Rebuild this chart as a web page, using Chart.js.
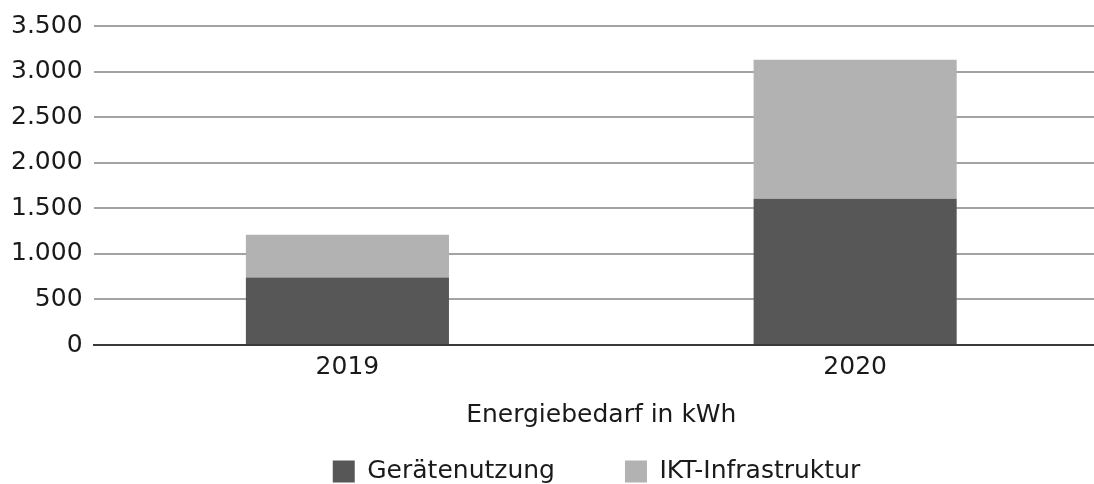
<!DOCTYPE html>
<html>
<head>
<meta charset="utf-8">
<script src="https://cdn.jsdelivr.net/npm/chart.js@4"></script>
<style>
  html, body { margin: 0; padding: 0; background: #fff; overflow: hidden; }
  #wrap { width: 1192px; height: 484px; }
</style>
</head>
<body>
<div id="wrap"><canvas id="myChart"></canvas></div>
<script>
const years = ['2019', '2020'];
const geraetenutzung = [740, 1605];
const iktInfrastruktur = [470, 1525];
const yTicks = [0, 500, 1000, 1500, 2000, 2500, 3000, 3500];

// Zahlen mit Tausenderpunkt
function fmt(v) {
  return String(v).replace(/\B(?=(\d{3})+(?!\d))/g, '.');
}

const font = { family: "'DejaVu Sans', sans-serif", size: 25 };

const data = {
  labels: years,
  datasets: [
    {
      label: 'Gerätenutzung',
      backgroundColor: '#575757',
      data: geraetenutzung,
    },
    {
      label: 'IKT-Infrastruktur',
      backgroundColor: '#b2b2b2',
      data: iktInfrastruktur,
    },
  ],
};

// Legende mittig unter die Grafik schieben
const shiftLegend = {
  id: 'shiftLegend',
  afterLayout(chart) {
    chart.legend.left += 42;
    chart.legend.right += 42;
  },
};

const config = {
  type: 'bar',
  data,
  plugins: [shiftLegend],
  options: {
    responsive: true,
    maintainAspectRatio: false,
    animation: false,
    layout: { padding: { top: 8, right: 83, left: 0, bottom: -10 } },
    datasets: { bar: { categoryPercentage: 1, barPercentage: 0.4 } },
    scales: {
      x: {
        stacked: true,
        grid: { display: false, drawTicks: false },
        border: { color: '#3a3a3a', width: 2 },
        ticks: { color: '#1a1a1a', font, padding: 7 },
        title: {
          display: true,
          text: 'Energiebedarf in kWh',
          color: '#1a1a1a',
          font,
          padding: { top: 11, bottom: -41 },
        },
      },
      y: {
        stacked: true,
        min: 0,
        max: 3500,
        afterBuildTicks: axis => {
          axis.ticks = yTicks.map(v => ({ value: v }));
        },
        border: { display: false },
        grid: {
          drawTicks: false,
          lineWidth: 2,
          color: ctx => (ctx.tick && ctx.tick.value === 0 ? '#3a3a3a' : '#a3a3a3'),
        },
        ticks: {
          color: '#1a1a1a',
          font,
          padding: 11,
          callback: v => fmt(v),
        },
      },
    },
    plugins: {
      legend: {
        position: 'bottom',
        labels: {
          color: '#1a1a1a',
          font,
          boxWidth: 22,
          boxHeight: 22,
          padding: 70,
        },
      },
      tooltip: { enabled: false },
    },
  },
};

var myChart = new Chart(document.getElementById('myChart'), config);
</script>
</body>
</html>
